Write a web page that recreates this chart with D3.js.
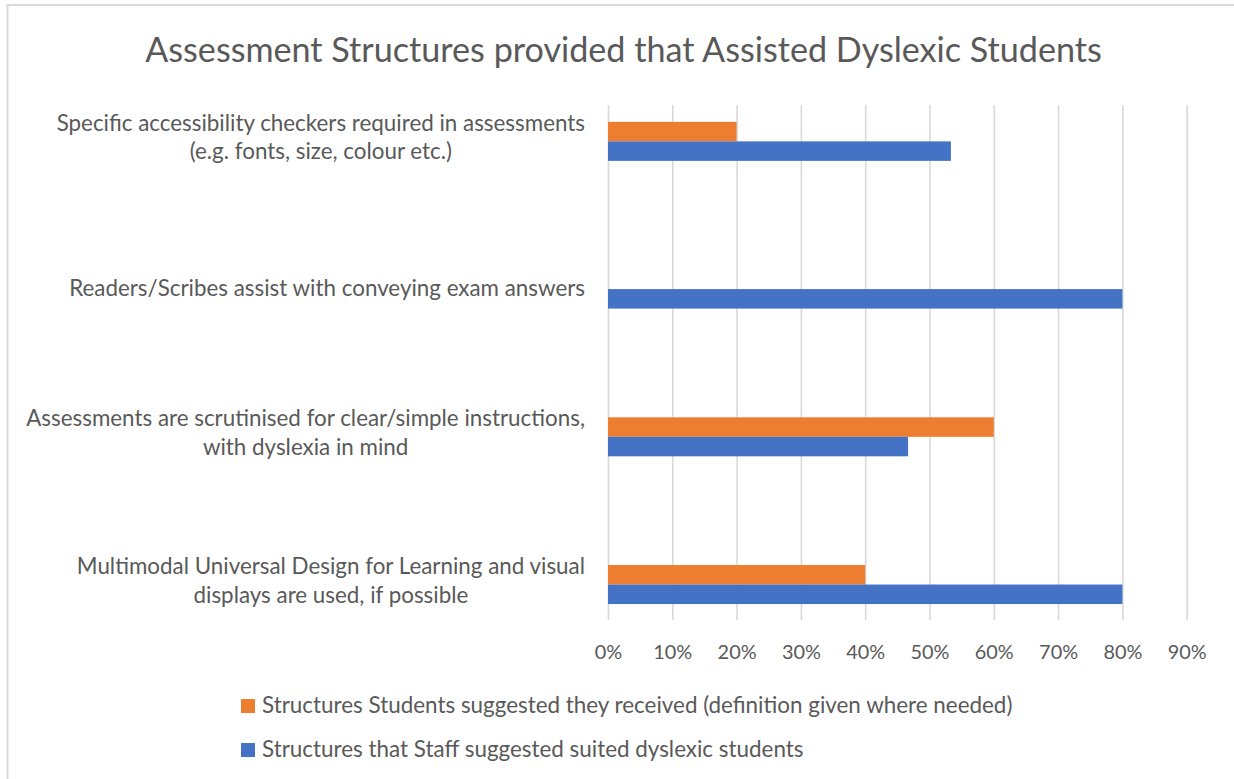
<!DOCTYPE html>
<html>
<head>
<meta charset="utf-8">
<script src="https://cdn.jsdelivr.net/npm/d3@7"></script>
<style>
  body { margin: 0; background: #fff; }
  svg { display: block; }
  text { font-family: Lato, "Open Sans", sans-serif; fill: #595959; }
</style>
</head>
<body>
<svg id="chart" width="1234" height="779"></svg>
<script>
// Chart content
const chartTitle = "Assessment Structures provided that Assisted Dyslexic Students";
const categories = [
  ["Specific accessibility checkers required in assessments", "(e.g. fonts, size, colour etc.)"],
  ["Readers/Scribes assist with conveying exam answers"],
  ["Assessments are scrutinised for clear/simple instructions,", "with dyslexia in mind"],
  ["Multimodal Universal Design for Learning and visual", "displays are used, if possible"]
];
const seriesNames = [
  "Structures Students suggested they received (definition given where needed)",
  "Structures that Staff suggested suited dyslexic students"
];
const studentsReceived = [0.20, 0.00, 0.60, 0.40];
const staffSuggested = [0.5333, 0.80, 0.4667, 0.80];
const tickValues = [0, 0.1, 0.2, 0.3, 0.4, 0.5, 0.6, 0.7, 0.8, 0.9];
const seriesColors = ["#ED7D31", "#4472C4"];

const svg = d3.select("#chart");

// Fit a font size so a sample string spans the requested width
function fitSize(sample, targetWidth, base) {
  const t = svg.append("text").attr("font-size", base).text(sample);
  const w = t.node().getComputedTextLength();
  t.remove();
  return base * targetWidth / w;
}

const labelSize = fitSize(categories[2][0], 559, 20);
const tickSize = fitSize("10%", 39, 20);
const legendSize = fitSize(seriesNames[0], 751, 20);
const titleSize = fitSize(chartTitle, 957, 30);

// Outer chart frame
svg.append("rect")
  .attr("x", 7.5).attr("y", 5)
  .attr("width", 1300).attr("height", 900)
  .attr("fill", "none")
  .attr("stroke", "#d9d9d9")
  .attr("stroke-width", 2);

// Title
svg.append("text")
  .attr("x", 623.5).attr("y", 61.7)
  .attr("text-anchor", "middle")
  .attr("font-size", titleSize)
  .text(chartTitle);

// Scales
const x = d3.scaleLinear().domain([0, 0.9]).range([608, 1186.7]);
const y = d3.scaleBand()
  .domain(d3.range(categories.length))
  .range([67.5, 658.4])
  .paddingInner(0.736)
  .paddingOuter(0.368);
const ySeries = d3.scaleBand().domain([0, 1]).range([0, y.bandwidth()]);

const gridTop = 105, gridBottom = 620;

// Vertical gridlines
const grid = svg.append("g")
  .attr("transform", `translate(0,${gridBottom})`)
  .call(d3.axisBottom(x).tickValues(tickValues).tickSize(-(gridBottom - gridTop)).tickFormat(""));
grid.select(".domain").remove();
grid.selectAll(".tick line").attr("stroke", "#d9d9d9").attr("stroke-width", 1.6);

// Tick labels
const ticks = svg.append("g")
  .attr("transform", `translate(0,659)`)
  .call(d3.axisBottom(x).tickValues(tickValues).tickSize(0).tickPadding(0).tickFormat(d3.format(".0%")));
ticks.select(".domain").remove();
ticks.selectAll(".tick text")
  .attr("dy", 0)
  .attr("y", 0)
  .attr("font-size", tickSize)
  .attr("font-family", "Lato, 'Open Sans', sans-serif")
  .attr("fill", "#595959");

// Bars
const seriesData = [studentsReceived, staffSuggested];
seriesData.forEach((vals, s) => {
  svg.append("g").selectAll("rect")
    .data(vals)
    .join("rect")
    .attr("x", x(0))
    .attr("y", (d, i) => y(i) + ySeries(s))
    .attr("width", d => x(d) - x(0))
    .attr("height", ySeries.bandwidth())
    .attr("fill", seriesColors[s]);
});

// Category labels: block right-aligned, lines centred within the block
const labelRight = 585;
const lineGap = 28.5;
categories.forEach((lines, i) => {
  const cy = y(i) + y.bandwidth() / 2;
  const g = svg.append("g");
  const texts = lines.map(line => g.append("text").attr("font-size", labelSize).text(line));
  const blockW = d3.max(texts, t => t.node().getComputedTextLength());
  const cx = labelRight - blockW / 2;
  const firstBase = lines.length === 1 ? cy + 7 : cy - 10.5;
  texts.forEach((t, k) => {
    t.attr("x", cx).attr("y", firstBase + k * lineGap).attr("text-anchor", "middle");
  });
});

// Legend
const legendY = [699, 743];
seriesNames.forEach((name, s) => {
  svg.append("rect")
    .attr("x", 241).attr("y", legendY[s])
    .attr("width", 14).attr("height", 14)
    .attr("fill", seriesColors[s]);
  svg.append("text")
    .attr("x", 262).attr("y", legendY[s] + 13.5)
    .attr("font-size", legendSize)
    .text(name);
});
</script>
</body>
</html>
